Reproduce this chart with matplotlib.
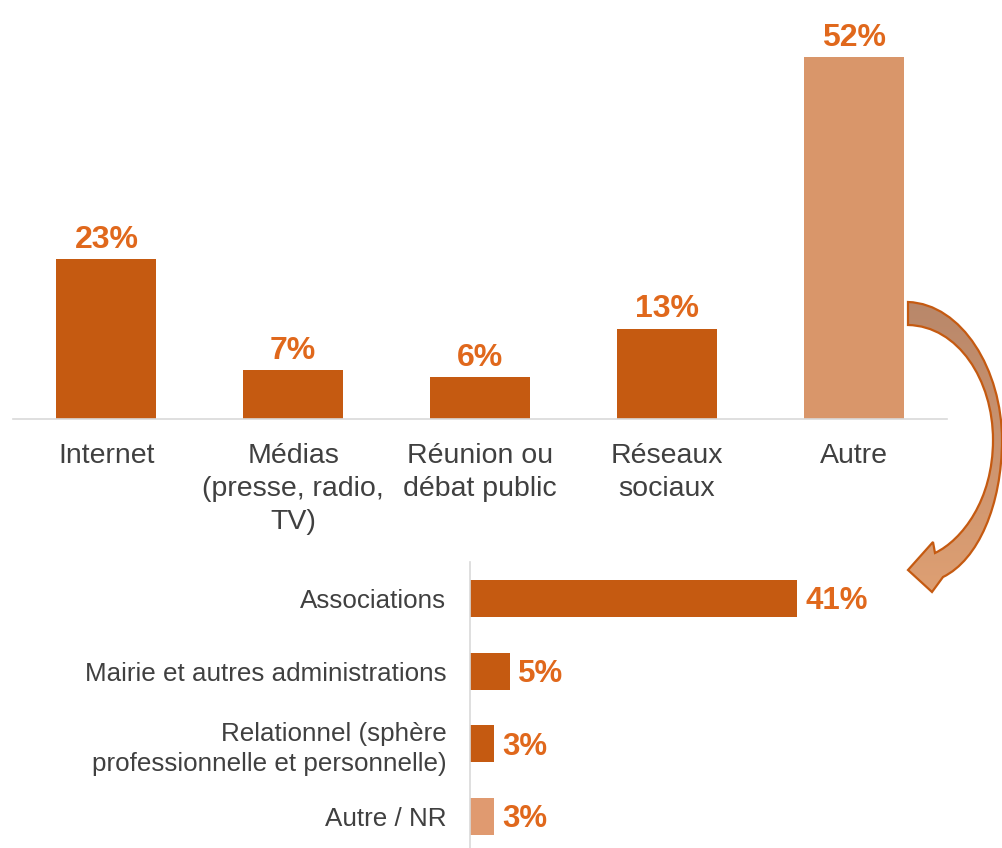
import matplotlib.pyplot as plt
import numpy as np
from matplotlib.path import Path
from matplotlib.patches import PathPatch
from matplotlib.colors import LinearSegmentedColormap

plt.rcParams['font.family'] = ['Liberation Sans', 'DejaVu Sans']

# Main channels
channels = ['Internet', 'Médias\n(presse, radio,\nTV)', 'Réunion ou\ndébat public',
            'Réseaux\nsociaux', 'Autre']
channel_pct = [23, 7, 6, 13, 52]

# Breakdown of "Autre"
other_labels = ['Associations', 'Mairie et autres administrations',
                'Relationnel (sphère\nprofessionnelle et personnelle)', 'Autre / NR']
other_pct = [41, 5, 3, 3]

DARK = '#C55A11'
LIGHT = '#D9966A'
LABEL = '#E0681C'
TEXT = '#404040'
W, H = 1003, 848

fig = plt.figure(figsize=(W / 100, H / 100), dpi=100)

# --- top column chart ---
ax1 = fig.add_axes([13 / W, 1 - 419 / H, 934 / W, 362 / H])
colors1 = [DARK] * 4 + [LIGHT]
bars1 = ax1.bar(range(len(channels)), channel_pct, width=0.535, color=colors1)
ax1.set_xlim(-0.5, len(channels) - 0.5)
ax1.set_ylim(0, max(channel_pct))
ax1.set_xticks(range(len(channels)))
ax1.set_xticklabels(channels, fontsize=20.5, color=TEXT, linespacing=1.35)
ax1.tick_params(axis='x', length=0, pad=17)
ax1.set_yticks([])
for s in ['top', 'right', 'left']:
    ax1.spines[s].set_visible(False)
ax1.spines['bottom'].set_color('#D9D9D9')
ax1.spines['bottom'].set_linewidth(1.2)
for b, v in zip(bars1, channel_pct):
    ax1.annotate(f'{v}%', (b.get_x() + b.get_width() / 2, v), xytext=(0, 3),
                 textcoords='offset points', ha='center', va='bottom',
                 fontsize=23, fontweight='bold', color=LABEL, annotation_clip=False)

# --- bottom bar chart ---
ax2 = fig.add_axes([470 / W, 1 - 853 / H, 479 / W, 291 / H])
colors2 = [DARK] * 3 + ['#E09A70']
ypos = np.arange(len(other_labels))
bars2 = ax2.barh(ypos, other_pct, height=0.51, color=colors2)
ax2.set_ylim(len(other_labels) - 0.5, -0.5)
ax2.set_xlim(0, 60)
ax2.set_yticks(ypos)
ax2.set_yticklabels(other_labels, fontsize=18.7, color=TEXT, linespacing=1.3)
ax2.tick_params(axis='y', length=0, pad=17)
ax2.set_xticks([])
for s in ['top', 'right', 'bottom']:
    ax2.spines[s].set_visible(False)
ax2.spines['left'].set_color('#D9D9D9')
ax2.spines['left'].set_linewidth(1.2)
for b, v in zip(bars2, other_pct):
    ax2.annotate(f'{v}%', (v, b.get_y() + b.get_height() / 2), xytext=(6, -2),
                 textcoords='offset points', ha='left', va='center',
                 fontsize=22.5, fontweight='bold', color=LABEL, annotation_clip=False)

# --- curved arrow linking "Autre" to its breakdown ---
ov = fig.add_axes([0, 0, 1, 1], zorder=5)
ov.set_xlim(0, W)
ov.set_ylim(H, 0)
ov.axis('off')
ov.patch.set_alpha(0)

verts = [
    (908, 302),
    (962, 304), (1002, 370), (1002, 440),
    (1002, 505), (978, 560), (943, 577),
    (932, 592), (908, 570), (933, 542),
    (935, 553),
    (962, 540), (993, 500), (993, 440),
    (993, 380), (958, 326), (908, 325),
    (908, 302),
]
codes = ([Path.MOVETO] + [Path.CURVE4] * 6 + [Path.LINETO] * 4
         + [Path.CURVE4] * 6 + [Path.CLOSEPOLY])
arrow = PathPatch(Path(verts, codes), facecolor='none', edgecolor=DARK, lw=1.6, zorder=6)
ov.add_patch(arrow)

grad = np.linspace(0, 1, 256).reshape(-1, 1)
cmap = LinearSegmentedColormap.from_list('arrow', ['#B8876A', '#DFA073'])
img = ov.imshow(grad, cmap=cmap, extent=(880, W, 600, 295), aspect='auto', zorder=5)
img.set_clip_path(arrow)

fig.savefig('out.png', dpi=100)
